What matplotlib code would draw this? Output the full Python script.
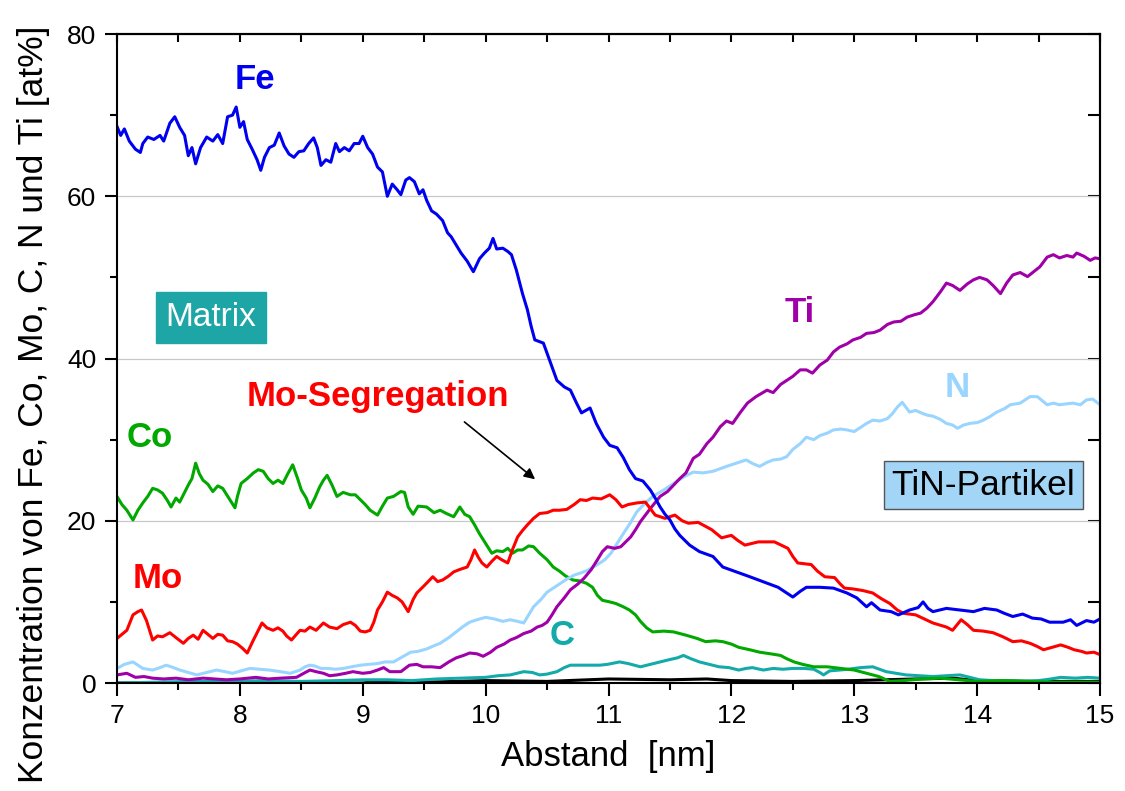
import matplotlib
matplotlib.use("Agg")
import matplotlib.pyplot as plt
from matplotlib.ticker import MultipleLocator

plt.rcParams["font.family"] = ["Liberation Sans", "DejaVu Sans"]

# Fe profile
fe_x = [7.00, 7.03, 7.06, 7.10, 7.15, 7.19, 7.21, 7.25, 7.30, 7.35, 7.38, 7.43, 7.47, 7.51,
        7.55, 7.58, 7.61, 7.64, 7.68, 7.73, 7.78, 7.82, 7.86, 7.90, 7.94, 7.97, 8.00, 8.03,
        8.06, 8.10, 8.14, 8.17, 8.20, 8.24, 8.28, 8.32, 8.36, 8.40, 8.44, 8.48, 8.52, 8.56,
        8.60, 8.63, 8.66, 8.70, 8.74, 8.78, 8.81, 8.85, 8.89, 8.93, 8.97, 9.00, 9.04, 9.08,
        9.12, 9.16, 9.20, 9.24, 9.28, 9.31, 9.35, 9.38, 9.42, 9.46, 9.49, 9.52, 9.56, 9.60,
        9.65, 9.69, 9.72, 9.76, 9.80, 9.85, 9.90, 9.95, 9.99, 10.03, 10.06, 10.09, 10.14,
        10.18, 10.21, 10.25, 10.30, 10.34, 10.37, 10.40, 10.47, 10.52, 10.58, 10.64, 10.69,
        10.74, 10.78, 10.85, 10.90, 10.96, 11.01, 11.07, 11.12, 11.17, 11.22, 11.28, 11.34,
        11.38, 11.42, 11.46, 11.50, 11.54, 11.58, 11.66, 11.74, 11.85, 11.93, 12.04, 12.15,
        12.29, 12.38, 12.45, 12.50, 12.56, 12.61, 12.72, 12.83, 12.94, 13.02, 13.10, 13.14,
        13.21, 13.30, 13.36, 13.45, 13.52, 13.56, 13.60, 13.64, 13.75, 13.86, 13.97, 14.06,
        14.16, 14.22, 14.29, 14.37, 14.45, 14.52, 14.59, 14.70, 14.76, 14.81, 14.89, 14.95,
        15.00]
fe_y = [68.6, 67.5, 68.3, 66.8, 65.8, 65.4, 66.5, 67.3, 67.0, 67.5, 66.8, 69.0, 69.8, 68.5,
        67.5, 65.0, 66.0, 64.0, 66.0, 67.3, 66.8, 67.6, 66.5, 69.8, 70.0, 71.0, 68.5, 69.2,
        67.0, 65.8, 64.5, 63.2, 64.8, 66.0, 66.3, 67.8, 66.2, 65.2, 64.8, 65.5, 65.6, 66.5,
        67.2, 66.0, 63.8, 64.5, 64.2, 66.5, 65.5, 66.0, 65.6, 66.5, 66.5, 67.4, 66.0, 65.2,
        63.6, 63.0, 60.0, 61.5, 60.8, 60.2, 62.0, 62.3, 61.8, 60.3, 60.8, 59.5, 58.2, 57.8,
        57.0, 55.5, 55.0, 54.0, 53.0, 52.0, 50.7, 52.3, 53.0, 53.6, 54.8, 53.5, 53.6,
        53.2, 52.8, 50.9, 48.0, 46.0, 44.0, 42.3, 41.9, 39.8, 37.3, 36.5, 36.1,
        34.5, 33.3, 33.9, 32.0, 30.3, 29.3, 29.0, 27.8, 26.3, 25.2, 24.9, 23.8,
        22.8, 21.7, 20.8, 20.1, 19.0, 18.2, 17.0, 16.2, 15.6, 14.3, 13.7, 13.1,
        12.3, 11.8, 11.1, 10.6, 11.3, 11.8, 11.8, 11.7, 11.1, 10.5, 9.4, 9.9,
        9.0, 8.8, 8.4, 9.0, 9.3, 10.0, 9.2, 8.8, 9.2, 9.0, 8.8, 9.2,
        9.0, 8.6, 8.2, 8.5, 8.0, 7.9, 7.5, 7.5, 7.8, 7.1, 7.7, 7.5,
        7.9]

# Mo profile
mo_x = [7.00, 7.04, 7.08, 7.13, 7.17, 7.20, 7.24, 7.29, 7.33, 7.37, 7.43, 7.48, 7.54, 7.58,
        7.62, 7.66, 7.70, 7.74, 7.78, 7.82, 7.86, 7.90, 7.94, 7.98, 8.02, 8.06, 8.11, 8.14,
        8.18, 8.22, 8.27, 8.31, 8.35, 8.38, 8.42, 8.46, 8.49, 8.53, 8.57, 8.62, 8.68, 8.73,
        8.79, 8.84, 8.90, 8.94, 8.98, 9.02, 9.06, 9.09, 9.12, 9.16, 9.20, 9.24, 9.28, 9.32,
        9.37, 9.41, 9.44, 9.50, 9.57, 9.61, 9.65, 9.70, 9.74, 9.79, 9.85, 9.88, 9.91, 9.94,
        9.97, 10.01, 10.05, 10.09, 10.13, 10.18, 10.22, 10.26, 10.30, 10.34, 10.39, 10.44,
        10.50, 10.55, 10.60, 10.66, 10.72, 10.77, 10.82, 10.87, 10.94, 11.01, 11.06, 11.11,
        11.16, 11.23, 11.30, 11.34, 11.38, 11.46, 11.54, 11.60, 11.65, 11.73, 11.84, 11.92,
        12.00, 12.05, 12.11, 12.22, 12.35, 12.46, 12.50, 12.54, 12.65, 12.70, 12.76, 12.84,
        12.88, 12.92, 12.99, 13.07, 13.15, 13.22, 13.29, 13.35, 13.40, 13.50, 13.57, 13.64,
        13.75, 13.80, 13.87, 13.92, 13.97, 14.05, 14.13, 14.21, 14.29, 14.36, 14.43, 14.49,
        14.54, 14.61, 14.68, 14.74, 14.79, 14.85, 14.89, 14.95, 15.00]
mo_y = [5.5, 6.0, 6.5, 8.4, 8.8, 9.0, 7.7, 5.3, 5.8, 5.7, 6.2, 5.6, 4.9, 5.5,
        5.9, 5.4, 6.5, 6.0, 5.5, 6.0, 5.9, 5.2, 5.1, 4.8, 4.3, 3.7, 5.3, 6.2,
        7.4, 6.8, 6.5, 6.8, 6.4, 5.8, 5.3, 6.0, 6.5, 6.4, 6.9, 6.5, 7.4, 6.9,
        6.7, 7.2, 7.5, 7.1, 6.4, 6.3, 6.5, 7.5, 9.0, 10.0, 11.2, 10.8, 10.5, 10.0,
        8.8, 10.3, 11.1, 12.0, 13.1, 12.5, 12.7, 13.2, 13.7, 14.0, 14.3, 15.2, 16.4, 15.5,
        14.8, 14.3, 15.0, 15.6, 15.2, 14.8, 16.5, 18.0, 18.8, 19.5, 20.3, 20.9,
        21.0, 21.3, 21.3, 21.4, 22.0, 22.6, 22.5, 22.8, 22.7, 23.2, 22.6, 21.7,
        22.0, 22.2, 22.3, 21.5, 20.7, 20.3, 20.7, 20.0, 19.7, 19.8, 18.9, 17.9,
        18.2, 17.6, 17.0, 17.4, 17.4, 16.6, 15.6, 14.8, 14.6, 13.8, 13.1, 13.0,
        12.3, 11.7, 11.6, 11.4, 11.1, 10.4, 9.8, 9.0, 8.6, 8.4, 7.9, 7.4,
        6.9, 6.5, 7.8, 7.2, 6.5, 6.4, 6.2, 5.7, 5.1, 5.2, 4.9, 4.5,
        4.1, 4.4, 4.7, 4.4, 4.1, 3.9, 3.7, 3.8, 3.5]

# Co profile
co_x = [7.00, 7.04, 7.08, 7.13, 7.17, 7.21, 7.25, 7.29, 7.33, 7.37, 7.41, 7.44, 7.48, 7.51,
        7.55, 7.58, 7.61, 7.64, 7.67, 7.70, 7.74, 7.78, 7.82, 7.86, 7.91, 7.96, 7.98, 8.01,
        8.06, 8.11, 8.15, 8.19, 8.23, 8.27, 8.31, 8.35, 8.39, 8.43, 8.47, 8.50, 8.54, 8.57,
        8.61, 8.65, 8.68, 8.71, 8.75, 8.79, 8.84, 8.90, 8.94, 8.98, 9.02, 9.06, 9.12, 9.16,
        9.20, 9.25, 9.31, 9.34, 9.37, 9.41, 9.45, 9.52, 9.58, 9.63, 9.68, 9.74, 9.79, 9.83,
        9.87, 9.91, 9.95, 10.00, 10.05, 10.09, 10.14, 10.18, 10.22, 10.26, 10.30, 10.35,
        10.39, 10.44, 10.50, 10.55, 10.60, 10.65, 10.71, 10.76, 10.82, 10.87, 10.91, 10.95,
        11.01, 11.06, 11.12, 11.17, 11.22, 11.26, 11.31, 11.36, 11.45, 11.53, 11.58, 11.63,
        11.72, 11.79, 11.87, 11.93, 12.00, 12.06, 12.15, 12.23, 12.32, 12.40, 12.45, 12.51,
        12.58, 12.67, 12.78, 12.89, 13.00, 13.10, 13.20, 13.29, 13.40, 13.55, 13.70, 13.85,
        14.00, 14.20, 14.40, 14.60, 14.80, 15.00]
co_y = [23.0, 22.0, 21.3, 20.1, 21.3, 22.2, 23.0, 24.0, 23.8, 23.4, 22.5, 21.7, 22.8, 22.3,
        23.5, 24.4, 25.2, 27.1, 25.8, 25.0, 24.5, 23.6, 24.3, 24.0, 22.8, 21.6, 23.0, 24.6,
        25.2, 25.9, 26.3, 26.1, 25.2, 24.6, 25.0, 24.6, 25.8, 26.9, 25.2, 23.8, 22.8, 21.6,
        22.8, 24.2, 25.0, 25.6, 24.4, 23.0, 23.5, 23.2, 23.2, 22.6, 22.0, 21.3, 20.7, 21.8,
        22.8, 23.0, 23.6, 23.5, 21.7, 20.8, 21.8, 21.7, 21.0, 21.3, 20.9, 20.5, 21.7, 20.8,
        20.5, 19.5, 18.4, 17.2, 16.0, 16.3, 16.2, 16.6, 16.0, 16.4, 16.4, 16.9,
        16.8, 16.0, 15.2, 14.3, 13.8, 13.2, 12.7, 12.6, 12.3, 11.8, 10.8, 10.2,
        10.0, 9.8, 9.4, 9.0, 8.4, 7.6, 6.8, 6.3, 6.4, 6.3, 6.1, 5.9,
        5.5, 5.1, 5.2, 5.1, 4.8, 4.4, 4.1, 3.8, 3.6, 3.4, 3.0, 2.6,
        2.3, 2.0, 2.0, 1.8, 1.6, 1.2, 0.8, 0.2, 0.3, 0.5, 0.6, 0.4,
        0.2, 0.3, 0.2, 0.1, 0.1, 0.1]

# Ti profile
ti_x = [7.00, 7.08, 7.15, 7.22, 7.29, 7.38, 7.48, 7.58, 7.70, 7.80, 7.89, 8.00, 8.13, 8.23,
        8.33, 8.46, 8.52, 8.57, 8.62, 8.68, 8.73, 8.79, 8.86, 8.92, 9.00, 9.06, 9.12, 9.17,
        9.22, 9.31, 9.38, 9.44, 9.49, 9.56, 9.63, 9.70, 9.76, 9.82, 9.87, 9.93, 9.98, 10.04,
        10.09, 10.15, 10.20, 10.25, 10.31, 10.37, 10.42, 10.46, 10.50, 10.54, 10.58, 10.64,
        10.69, 10.75, 10.80, 10.86, 10.91, 10.95, 10.99, 11.05, 11.10, 11.14, 11.18, 11.22,
        11.26, 11.34, 11.42, 11.48, 11.53, 11.58, 11.63, 11.69, 11.74, 11.80, 11.85, 11.91,
        11.96, 12.01, 12.07, 12.13, 12.20, 12.29, 12.34, 12.40, 12.45, 12.50, 12.56, 12.61,
        12.66, 12.72, 12.78, 12.83, 12.88, 12.94, 12.99, 13.05, 13.10, 13.16, 13.21, 13.27,
        13.32, 13.38, 13.43, 13.49, 13.54, 13.59, 13.64, 13.70, 13.75, 13.80, 13.86, 13.92,
        13.97, 14.02, 14.08, 14.13, 14.19, 14.24, 14.29, 14.35, 14.41, 14.46, 14.51, 14.57,
        14.62, 14.67, 14.73, 14.78, 14.81, 14.87, 14.92, 14.96, 15.00]
ti_y = [1.0, 1.2, 0.7, 0.8, 0.6, 0.5, 0.6, 0.4, 0.6, 0.5, 0.4, 0.5, 0.7, 0.5,
        0.6, 0.7, 1.2, 1.6, 1.4, 1.2, 0.9, 1.0, 1.2, 1.4, 1.2, 1.3, 1.6, 1.9,
        1.4, 1.4, 2.2, 2.3, 2.0, 2.0, 1.9, 2.6, 3.1, 3.4, 3.7, 3.6, 3.3, 3.8,
        4.4, 4.8, 5.3, 5.6, 6.1, 6.4, 6.9, 7.1, 7.5, 8.4, 9.4, 10.5,
        11.5, 12.2, 12.9, 14.0, 15.2, 16.2, 16.8, 16.6, 16.8, 17.4, 18.0, 18.9,
        19.9, 21.5, 23.0, 23.6, 24.4, 25.2, 25.9, 27.7, 28.2, 29.5, 30.3, 31.6,
        32.3, 32.0, 33.3, 34.5, 35.3, 36.1, 35.8, 36.8, 37.3, 37.8, 38.6, 38.6,
        38.2, 39.2, 39.8, 40.8, 41.4, 41.8, 42.3, 42.6, 43.1, 43.2, 43.5, 44.2,
        44.5, 44.6, 45.1, 45.4, 45.6, 46.2, 47.0, 48.2, 49.3, 49.0, 48.4, 49.2,
        49.7, 50.0, 49.7, 49.0, 48.0, 49.3, 50.3, 50.6, 50.1, 50.7, 51.3, 52.5,
        52.8, 52.4, 52.7, 52.5, 53.0, 52.6, 52.1, 52.4, 52.3]

# N profile
n_x = [7.00, 7.06, 7.13, 7.17, 7.21, 7.29, 7.35, 7.40, 7.46, 7.51, 7.58, 7.65, 7.73, 7.81,
       7.88, 7.94, 8.01, 8.08, 8.16, 8.24, 8.33, 8.41, 8.49, 8.53, 8.57, 8.61, 8.66, 8.71,
       8.78, 8.84, 8.91, 8.98, 9.05, 9.12, 9.18, 9.25, 9.32, 9.39, 9.45, 9.52, 9.58, 9.63,
       9.70, 9.76, 9.82, 9.87, 9.93, 10.00, 10.07, 10.14, 10.20, 10.26, 10.31, 10.35, 10.39,
       10.45, 10.50, 10.56, 10.61, 10.66, 10.72, 10.78, 10.83, 10.91, 10.97, 11.02, 11.07,
       11.12, 11.18, 11.23, 11.30, 11.36, 11.45, 11.53, 11.61, 11.69, 11.77, 11.85, 11.96,
       12.04, 12.12, 12.18, 12.23, 12.29, 12.34, 12.40, 12.45, 12.50, 12.56, 12.61, 12.67,
       12.72, 12.78, 12.83, 12.89, 12.94, 13.00, 13.05, 13.10, 13.15, 13.21, 13.27, 13.31,
       13.35, 13.39, 13.45, 13.50, 13.56, 13.60, 13.64, 13.70, 13.75, 13.80, 13.84, 13.89,
       13.94, 14.00, 14.05, 14.10, 14.16, 14.22, 14.27, 14.35, 14.43, 14.49, 14.53, 14.57,
       14.62, 14.67, 14.72, 14.78, 14.84, 14.89, 14.94, 15.00]
n_y = [1.8, 2.3, 2.6, 2.2, 1.8, 1.6, 1.9, 2.2, 1.9, 1.6, 1.3, 1.0, 1.3, 1.6,
       1.4, 1.2, 1.5, 1.8, 1.7, 1.6, 1.4, 1.2, 1.6, 2.0, 2.2, 2.1, 1.8, 1.8,
       1.7, 1.8, 2.0, 2.2, 2.3, 2.4, 2.6, 2.6, 3.2, 3.8, 3.9, 4.2, 4.6, 4.9,
       5.6, 6.3, 7.0, 7.5, 7.8, 8.1, 7.9, 7.6, 7.8, 7.6, 7.4, 8.4, 9.4,
       10.3, 11.2, 11.8, 12.3, 12.8, 13.3, 13.6, 13.9, 14.6, 15.2, 16.0, 17.2,
       18.4, 19.8, 21.1, 22.2, 23.0, 23.8, 24.6, 25.4, 26.0, 25.9, 26.1, 26.7,
       27.1, 27.5, 27.0, 26.7, 27.2, 27.5, 27.6, 27.9, 28.8, 29.5, 30.3, 30.0,
       30.5, 30.8, 31.2, 31.3, 31.2, 31.0, 31.5, 32.0, 32.4, 32.3, 32.6, 33.2,
       34.0, 34.6, 33.4, 33.6, 33.2, 33.0, 32.9, 32.5, 32.0, 31.8, 31.4, 31.8,
       32.0, 32.1, 32.4, 32.8, 33.4, 33.8, 34.3, 34.5, 35.3, 35.3, 34.8, 34.3,
       34.5, 34.3, 34.4, 34.5, 34.3, 34.9, 35.0, 34.3]

# C profile
c_x = [7.00, 7.30, 7.60, 7.90, 8.20, 8.50, 8.80, 9.00, 9.20, 9.40, 9.60, 9.80, 10.00, 10.10,
       10.20, 10.31, 10.38, 10.44, 10.50, 10.58, 10.64, 10.69, 10.77, 10.85, 10.93, 10.99,
       11.09, 11.16, 11.26, 11.34, 11.42, 11.50, 11.56, 11.61, 11.67, 11.74, 11.82, 11.90,
       11.98, 12.06, 12.12, 12.17, 12.26, 12.34, 12.42, 12.50, 12.59, 12.67, 12.72, 12.75,
       12.80, 12.88, 12.95, 13.05, 13.15, 13.26, 13.34, 13.42, 13.53, 13.64, 13.75, 13.86,
       13.94, 14.02, 14.13, 14.24, 14.37, 14.50, 14.60, 14.68, 14.80, 14.90, 15.00]
c_y = [0.0, 0.1, 0.2, 0.2, 0.3, 0.2, 0.3, 0.4, 0.4, 0.3, 0.5, 0.6, 0.7, 0.9,
       1.0, 1.4, 1.3, 1.0, 1.1, 1.4, 1.9, 2.2, 2.2, 2.2, 2.2, 2.3,
       2.6, 2.4, 2.0, 2.3, 2.6, 2.9, 3.1, 3.4, 3.0, 2.6, 2.3, 2.0,
       1.9, 1.6, 1.8, 1.9, 1.6, 1.8, 1.7, 1.8, 1.8, 1.7, 1.3, 1.0,
       1.5, 1.6, 1.7, 1.9, 2.0, 1.4, 1.2, 1.0, 0.9, 0.8, 0.9, 1.0,
       0.7, 0.4, 0.3, 0.3, 0.2, 0.3, 0.5, 0.7, 0.6, 0.7, 0.6]

# remaining trace near zero (black)
bk_x = [7.0, 9.0, 9.1, 9.5, 10.0, 10.5, 11.0, 11.5, 11.8, 12.0, 12.5, 13.0, 13.5, 13.8,
        14.0, 14.5, 15.0]
bk_y = [0.0, 0.0, 0.2, 0.1, 0.3, 0.2, 0.5, 0.4, 0.5, 0.3, 0.2, 0.3, 0.5, 0.6,
        0.3, 0.2, 0.2]

fig = plt.figure(figsize=(11.25, 7.91), dpi=100)
ax = fig.add_axes([0.104, 0.1365, 0.8738, 0.8205])

lw = 2.2
ax.plot(bk_x, bk_y, color="black", lw=lw)
ax.plot(c_x, c_y, color="#14AAAA", lw=lw)
ax.plot(co_x, co_y, color="#00A800", lw=lw)
ax.plot(n_x, n_y, color="#99D5FF", lw=lw)
ax.plot(ti_x, ti_y, color="#A000A8", lw=lw)
ax.plot(mo_x, mo_y, color="#FF0000", lw=lw)
ax.plot(fe_x, fe_y, color="#0000F0", lw=lw)

ax.set_xlim(7, 15)
ax.set_ylim(0, 80)
ax.xaxis.set_major_locator(MultipleLocator(1))
ax.xaxis.set_minor_locator(MultipleLocator(0.5))
ax.yaxis.set_major_locator(MultipleLocator(20))
ax.yaxis.set_minor_locator(MultipleLocator(10))
ax.grid(axis="y", which="major", color="#c8c8c8", lw=0.9)
ax.set_axisbelow(True)

ax.tick_params(which="both", direction="out", width=1.5, labelsize=19, pad=6,
               top=False, right=False)
ax.tick_params(which="major", length=9)
ax.tick_params(which="minor", length=5)
for s in ax.spines.values():
    s.set_linewidth(1.5)

# inward ticks on top and right
top = ax.secondary_xaxis("top")
top.xaxis.set_major_locator(MultipleLocator(1))
top.xaxis.set_minor_locator(MultipleLocator(0.5))
top.tick_params(which="both", direction="in", length=6, width=1.5, labeltop=False)
top.spines["top"].set_linewidth(1.5)
right = ax.secondary_yaxis("right")
right.yaxis.set_major_locator(MultipleLocator(20))
right.yaxis.set_minor_locator(MultipleLocator(10))
right.tick_params(which="both", direction="in", length=9, width=1.5, labelright=False)
right.spines["right"].set_linewidth(1.5)

ax.set_xlabel("Abstand  [nm]", fontsize=25, labelpad=9)
ax.set_ylabel("Konzentration von Fe, Co, Mo, C, N und Ti [at%]", fontsize=25.5)
ax.yaxis.set_label_coords(-0.068, 0.43)

# element labels
lab = dict(fontsize=25, fontweight="bold", ha="center", va="center")
ax.text(8.12, 74.4, "Fe", color="#0000F0", **lab)
ax.text(7.27, 30.3, "Co", color="#00A800", **lab)
ax.text(7.33, 12.9, "Mo", color="#FF0000", **lab)
ax.text(10.62, 5.9, "C", color="#14AAAA", **lab)
ax.text(12.56, 45.7, "Ti", color="#A000A8", **lab)
ax.text(13.84, 36.4, "N", color="#99D5FF", **lab)
ax.text(9.12, 35.3, "Mo-Segregation", color="#FF0000", **lab)
ax.annotate("", xy=(10.42, 24.9), xytext=(9.81, 32.4),
            arrowprops=dict(arrowstyle="-|>", color="black", lw=1.2, mutation_scale=16))

ax.text(7.765, 45.1, "Matrix", color="white", fontsize=24, ha="center", va="center",
        bbox=dict(boxstyle="square,pad=0.3", facecolor="#1EA5A5", edgecolor="#1EA5A5"))
ax.text(14.05, 24.4, "TiN-Partikel", color="black", fontsize=25.5, ha="center", va="center",
        bbox=dict(boxstyle="square,pad=0.22", facecolor="#A3D5F7", edgecolor="#555555", lw=1))

fig.savefig("out.png", dpi=100)
